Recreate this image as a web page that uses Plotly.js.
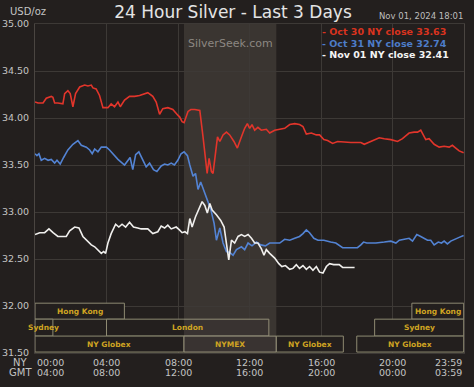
<!DOCTYPE html>
<html>
<head>
<meta charset="utf-8">
<script src="https://cdn.plot.ly/plotly-3.0.1.min.js"></script>
<style>html,body{margin:0;padding:0;background:#231f1e;}#chart{width:474px;height:387px;}</style>
</head>
<body>
<div id="chart"></div>
<script>
// ---- data (hours NY time, USD/oz) ----
const dayLabels = ['Oct 30', 'Oct 31', 'Nov 01'];
const dayCloses = [33.63, 32.74, 32.41];

const redH = [0,0.17,0.45,0.63,0.91,1.0,1.10,1.28,1.56,1.66,1.84,1.97,2.12,2.27,2.50,2.78,2.96,3.15,3.24,3.42,3.61,3.80,4.08,4.26,4.45,4.64,4.77,5.01,5.29,5.57,5.85,6.31,6.59,6.78,6.97,7.15,7.43,7.71,7.99,8.10,8.23,8.34,8.56,8.72,8.94,9.22,9.40,9.54,9.63,9.74,9.87,9.96,10.06,10.21,10.34,10.52,10.71,10.89,11.13,11.32,11.55,11.73,11.88,12.01,12.14,12.29,12.47,12.66,12.94,13.13,13.41,13.69,13.97,14.25,14.53,14.80,14.99,15.18,15.46,15.74,15.92,16.16,16.37,16.65,16.93,17.67,18.23,18.42,18.88,19.26,19.54,19.91,20.28,20.56,20.74,20.93,21.21,21.40,21.58,21.73,21.86,22.05,22.33,22.61,22.89,23.17,23.35,23.54,23.73,23.98];
const redV = [34.17,34.16,34.16,34.21,34.23,34.22,34.16,34.16,34.15,34.26,34.29,34.26,34.12,34.26,34.33,34.35,34.34,34.35,34.32,34.31,34.24,34.11,34.11,34.15,34.12,34.17,34.12,34.19,34.23,34.23,34.24,34.27,34.23,34.17,34.04,34.10,34.11,34.09,34.03,34.01,33.96,33.95,34.07,34.09,34.09,34.08,33.80,33.55,33.41,33.57,33.43,33.41,33.59,33.80,33.75,33.82,33.85,33.82,33.75,33.68,33.80,33.89,33.94,33.89,33.93,33.87,33.90,33.87,33.88,33.84,33.87,33.88,33.89,33.93,33.94,33.93,33.91,33.83,33.84,33.82,33.82,33.77,33.76,33.73,33.75,33.74,33.74,33.72,33.76,33.79,33.78,33.77,33.75,33.78,33.81,33.84,33.85,33.85,33.87,33.82,33.77,33.78,33.72,33.69,33.70,33.69,33.71,33.68,33.65,33.63];

const blueH = [0,0.11,0.22,0.35,0.54,0.73,0.91,1.10,1.23,1.41,1.60,1.84,2.12,2.40,2.59,2.87,3.06,3.20,3.34,3.52,3.71,3.99,4.17,4.45,4.64,5.01,5.20,5.32,5.47,5.63,5.81,6.03,6.22,6.41,6.63,6.82,7.06,7.25,7.43,7.62,7.80,7.99,8.17,8.34,8.53,8.66,8.84,8.98,9.12,9.27,9.46,9.65,9.83,10.02,10.15,10.34,10.52,10.71,10.89,11.08,11.27,11.55,11.73,11.92,12.14,12.39,12.63,12.89,13.13,13.41,13.69,13.97,14.25,14.53,14.80,14.99,15.18,15.36,15.60,15.83,16.16,16.54,16.83,17.21,17.67,18.04,18.23,18.38,18.56,19.07,19.54,19.91,20.19,20.38,20.66,20.93,21.12,21.36,21.58,21.77,21.96,22.14,22.33,22.56,22.74,22.89,23.07,23.26,23.54,23.73,23.98];
const blueV = [33.62,33.60,33.62,33.55,33.57,33.55,33.56,33.52,33.55,33.51,33.58,33.66,33.72,33.76,33.71,33.69,33.66,33.62,33.67,33.64,33.69,33.69,33.66,33.60,33.56,33.50,33.55,33.58,33.45,33.61,33.64,33.55,33.48,33.52,33.45,33.43,33.49,33.51,33.50,33.52,33.50,33.55,33.62,33.64,33.60,33.50,33.38,33.41,33.24,33.32,33.22,33.11,33.03,32.88,32.70,32.83,32.67,32.58,32.57,32.54,32.60,32.63,32.60,32.67,32.64,32.68,32.65,32.64,32.67,32.67,32.67,32.71,32.70,32.72,32.74,32.77,32.81,32.78,32.72,32.70,32.70,32.68,32.67,32.62,32.62,32.62,32.65,32.68,32.67,32.67,32.68,32.69,32.67,32.70,32.71,32.72,32.69,32.76,32.74,32.72,32.70,32.70,32.65,32.68,32.67,32.69,32.66,32.69,32.71,32.73,32.75];

const whiteH = [0,0.26,0.54,0.78,1.01,1.28,1.75,1.94,2.22,2.46,2.68,2.96,3.15,3.34,3.52,3.71,3.84,3.95,4.08,4.26,4.51,4.69,4.87,5.07,5.29,5.51,5.75,5.94,6.31,6.59,6.87,7.06,7.25,7.43,7.62,7.90,8.08,8.23,8.39,8.53,8.66,8.79,8.98,9.16,9.35,9.50,9.64,9.78,9.91,10.15,10.39,10.58,10.71,10.84,10.99,11.17,11.36,11.55,11.73,11.92,12.11,12.29,12.47,12.66,12.81,12.94,13.13,13.41,13.64,13.81,14.01,14.25,14.43,14.62,14.80,14.99,15.18,15.36,15.55,15.74,15.92,16.11,16.30,16.48,16.71,17.02,17.21,17.88];
const whiteV = [32.76,32.78,32.78,32.82,32.78,32.74,32.74,32.80,32.84,32.83,32.74,32.68,32.65,32.63,32.60,32.56,32.58,32.56,32.67,32.77,32.87,32.84,32.87,32.84,32.89,32.84,32.83,32.82,32.82,32.77,32.79,32.85,32.83,32.86,32.82,32.84,32.81,32.78,32.79,32.77,32.93,32.84,32.95,33.02,33.11,33.07,32.99,33.09,33.02,32.97,32.91,32.84,32.65,32.49,32.70,32.67,32.74,32.76,32.74,32.76,32.72,32.67,32.67,32.61,32.54,32.60,32.56,32.51,32.45,32.42,32.43,32.39,32.40,32.44,32.40,32.43,32.39,32.42,32.38,32.42,32.36,32.35,32.42,32.45,32.44,32.44,32.41,32.41];

// tick labels
const tickHours = [0, 4, 8, 12, 16, 20, 24];
const nyTicks  = ['00:00', '04:00', '08:00', '12:00', '16:00', '20:00', '23:59'];
const gmtTicks = ['04:00', '08:00', '12:00', '16:00', '20:00', '00:00', '03:59'];
const yTicks = [31.5, 32.0, 32.5, 33.0, 33.5, 34.0, 34.5, 35.0];

// trading sessions (NY time)
const sessionNames = ['Hong Kong', 'Hong Kong', 'Sydney', 'Sydney', 'London', 'NY Globex', 'NYMEX', 'NY Globex', 'NY Globex'];
const sessionStart = ['00:00', '21:05', '00:00', '19:00', '04:00', '00:00', '08:20', '13:30', '18:00'];
const sessionEnd   = ['05:00', '23:59', '01:00', '23:59', '13:05', '08:20', '13:30', '17:15', '23:59'];
const sessionRow   = [0, 0, 1, 1, 1, 2, 2, 2, 2];
const nymexStart = '08:20', nymexEnd = '13:30';

// ---- rendering ----
const toH = s => { const p = s.split(':').map(Number); return p[0] + p[1] / 60; };
const BG = '#231f1e';
const seriesColors = ['#e2352b', '#5383d3', '#f0efed'];
const labelColors = ['#d9331f', '#4d7cc8', '#f4f4f4'];
const FONT = 'DejaVu Sans, Verdana, sans-serif';

const traces = [[redH, redV], [blueH, blueV], [whiteH, whiteV]].map((d, i) => ({
  x: d[0], y: d[1], type: 'scatter', mode: 'lines',
  line: {color: seriesColors[i], width: 1.6}, hoverinfo: 'skip', showlegend: false
}));

const rowTop = [32.03, 31.86, 31.68];
const rowBot = [31.86, 31.68, 31.51];

const nyA = toH(nymexStart), nyB = toH(nymexEnd);
const shapes = [];
// NYMEX shaded band (under grid)
shapes.push({type: 'rect', layer: 'below', xref: 'x', yref: 'paper',
  x0: nyA, x1: nyB, y0: 0, y1: 1, fillcolor: '#3a3531', line: {width: 0}});
// session boxes (opaque), then shade overlay where a box meets the NYMEX band
sessionNames.forEach((n, i) => {
  shapes.push({type: 'rect', layer: 'above', xref: 'x', yref: 'y',
    x0: toH(sessionStart[i]), x1: toH(sessionEnd[i]),
    y0: rowBot[sessionRow[i]], y1: rowTop[sessionRow[i]],
    fillcolor: BG, line: {color: '#8e8a72', width: 1}});
});
sessionNames.forEach((n, i) => {
  const a = Math.max(toH(sessionStart[i]), nyA), b = Math.min(toH(sessionEnd[i]), nyB);
  if (b > a) {
    shapes.push({type: 'rect', layer: 'above', xref: 'x', yref: 'y',
      x0: a, x1: b, y0: rowBot[sessionRow[i]], y1: rowTop[sessionRow[i]],
      fillcolor: 'rgba(255,240,225,0.1)', line: {width: 0}});
  }
});

const annotations = [];
sessionNames.forEach((n, i) => {
  annotations.push({xref: 'x', yref: 'y', x: (toH(sessionStart[i]) + toH(sessionEnd[i])) / 2,
    y: (rowBot[sessionRow[i]] + rowTop[sessionRow[i]]) / 2,
    text: n, showarrow: false, xanchor: 'center', yanchor: 'middle',
    font: {family: FONT, size: 7.5, color: '#cfa422', weight: 'bold'}});
});
// x tick labels (NY / GMT rows)
tickHours.forEach((h, i) => {
  const anchor = i === 0 ? 'left' : (i === tickHours.length - 1 ? 'right' : 'center');
  annotations.push({xref: 'x', yref: 'paper', x: h, y: -0.0295, text: nyTicks[i], showarrow: false,
    xanchor: anchor, yanchor: 'middle', font: {family: FONT, size: 9.5, color: '#c4c4c4'}});
  annotations.push({xref: 'x', yref: 'paper', x: h, y: -0.0587, text: gmtTicks[i], showarrow: false,
    xanchor: anchor, yanchor: 'middle', font: {family: FONT, size: 9.5, color: '#c4c4c4'}});
});
annotations.push({xref: 'paper', yref: 'paper', x: -0.035, y: -0.0295, text: 'NY', showarrow: false,
  xanchor: 'center', yanchor: 'middle', font: {family: FONT, size: 10, color: '#c4c4c4'}});
annotations.push({xref: 'paper', yref: 'paper', x: -0.033, y: -0.0587, text: 'GMT', showarrow: false,
  xanchor: 'center', yanchor: 'middle', font: {family: FONT, size: 10, color: '#c4c4c4'}});
// unit label & timestamp
annotations.push({xref: 'paper', yref: 'paper', x: -0.063, y: 1.037, text: 'USD/oz', showarrow: false,
  xanchor: 'left', yanchor: 'middle', font: {family: FONT, size: 10, color: '#c4c4c4'}});
annotations.push({xref: 'paper', yref: 'paper', x: 1.002, y: 1.023, text: 'Nov 01, 2024 18:01', showarrow: false,
  xanchor: 'right', yanchor: 'middle', font: {family: FONT, size: 8.5, color: '#bdbdbd'}});
// watermark
annotations.push({xref: 'paper', yref: 'paper', x: (230 - 35) / 429, y: (353 - 43) / 329, text: 'SilverSeek.com', showarrow: false,
  xanchor: 'center', yanchor: 'middle', font: {family: FONT, size: 11, color: '#8c8782'}});
// close legend
const legendY = [0.9757, 0.9422, 0.9088];
dayLabels.forEach((d, i) => {
  annotations.push({xref: 'paper', yref: 'paper', x: 0.6643, y: legendY[i],
    text: '- ' + d + ' NY close ' + dayCloses[i].toFixed(2), showarrow: false,
    xanchor: 'left', yanchor: 'middle', font: {family: FONT, size: 9.5, color: labelColors[i], weight: 'bold'}});
});

const layout = {
  width: 474, height: 387,
  margin: {l: 35, r: 10, t: 24, b: 34, pad: 0},
  paper_bgcolor: BG, plot_bgcolor: BG,
  title: {text: '24 Hour Silver - Last 3 Days', x: 0.4615, xref: 'paper', xanchor: 'center',
    y: 0.968, yref: 'container', yanchor: 'middle',
    font: {family: FONT, size: 17, color: '#e4e4e4'}},
  xaxis: {range: [0, 24], tickvals: tickHours, showticklabels: false, ticks: '',
    showgrid: true, gridcolor: '#3d3936', gridwidth: 1, zeroline: false,
    showline: true, mirror: true, linecolor: '#3d3936', fixedrange: true},
  yaxis: {range: [31.5, 35.0], tickvals: yTicks, tickformat: '.2f', ticks: 'outside', ticklen: 3,
    tickcolor: 'rgba(0,0,0,0)', tickfont: {family: FONT, size: 9.5, color: '#c4c4c4'},
    showgrid: true, gridcolor: '#3d3936', gridwidth: 1, zeroline: false,
    showline: true, mirror: true, linecolor: '#4a4541', fixedrange: true},
  shapes: shapes, annotations: annotations, showlegend: false
};

Plotly.newPlot('chart', traces, layout, {displayModeBar: false, staticPlot: true});
</script>
</body>
</html>
